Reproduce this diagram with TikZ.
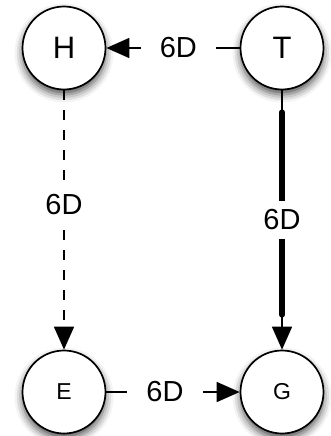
\documentclass[tikz,border=0pt]{standalone}
\usepackage{fontspec}
\setmainfont{Liberation Sans}
\usetikzlibrary{arrows.meta,shadows.blur}

\begin{document}
\begin{tikzpicture}[x=1pt,y=-1pt]
		\tikzset{state/.style={circle,draw,line width=1.7pt,fill=white,minimum size=83pt,inner sep=0pt,
				blur shadow={shadow xshift=0pt,shadow yshift=-5pt,shadow blur radius=8pt,shadow opacity=70}}} %shadow below each circle
		\tikzset{big/.style={font=\fontsize{31}{31}\selectfont}}
		\tikzset{small/.style={font=\fontsize{23}{23}\selectfont}}
		\tikzset{link/.style={line width=1.6pt,-{Triangle[length=23pt,width=20pt]}}}
		\tikzset{weight/.style={fill=white,inner xsep=19pt,inner ysep=9pt,font=\fontsize{29}{29}\selectfont}}
		\useasboundingbox (0,0) rectangle (331,436);
		\node[state,big] (H) at (64,48) {H};
		\node[state,big] (T) at (282,48) {T};
		\node[state,small] (E) at (64,392) {E};
		\node[state,small] (G) at (282,392) {G};
		\draw[line width=6pt,line cap=round] ([yshift=-22pt]T.south) -- ([yshift=35pt]G.north);
		\draw[link] (T) -- node[weight,pos=0.46] {6D} (H);
		\draw[link,dash pattern=on 10pt off 10pt] (H) -- node[weight,pos=0.44] {6D} (E);
		\draw[link] (T) -- node[weight,pos=0.5] {6D} (G);
		\draw[link] (E) -- node[weight,pos=0.44] {6D} (G);
\end{tikzpicture}
\end{document}
